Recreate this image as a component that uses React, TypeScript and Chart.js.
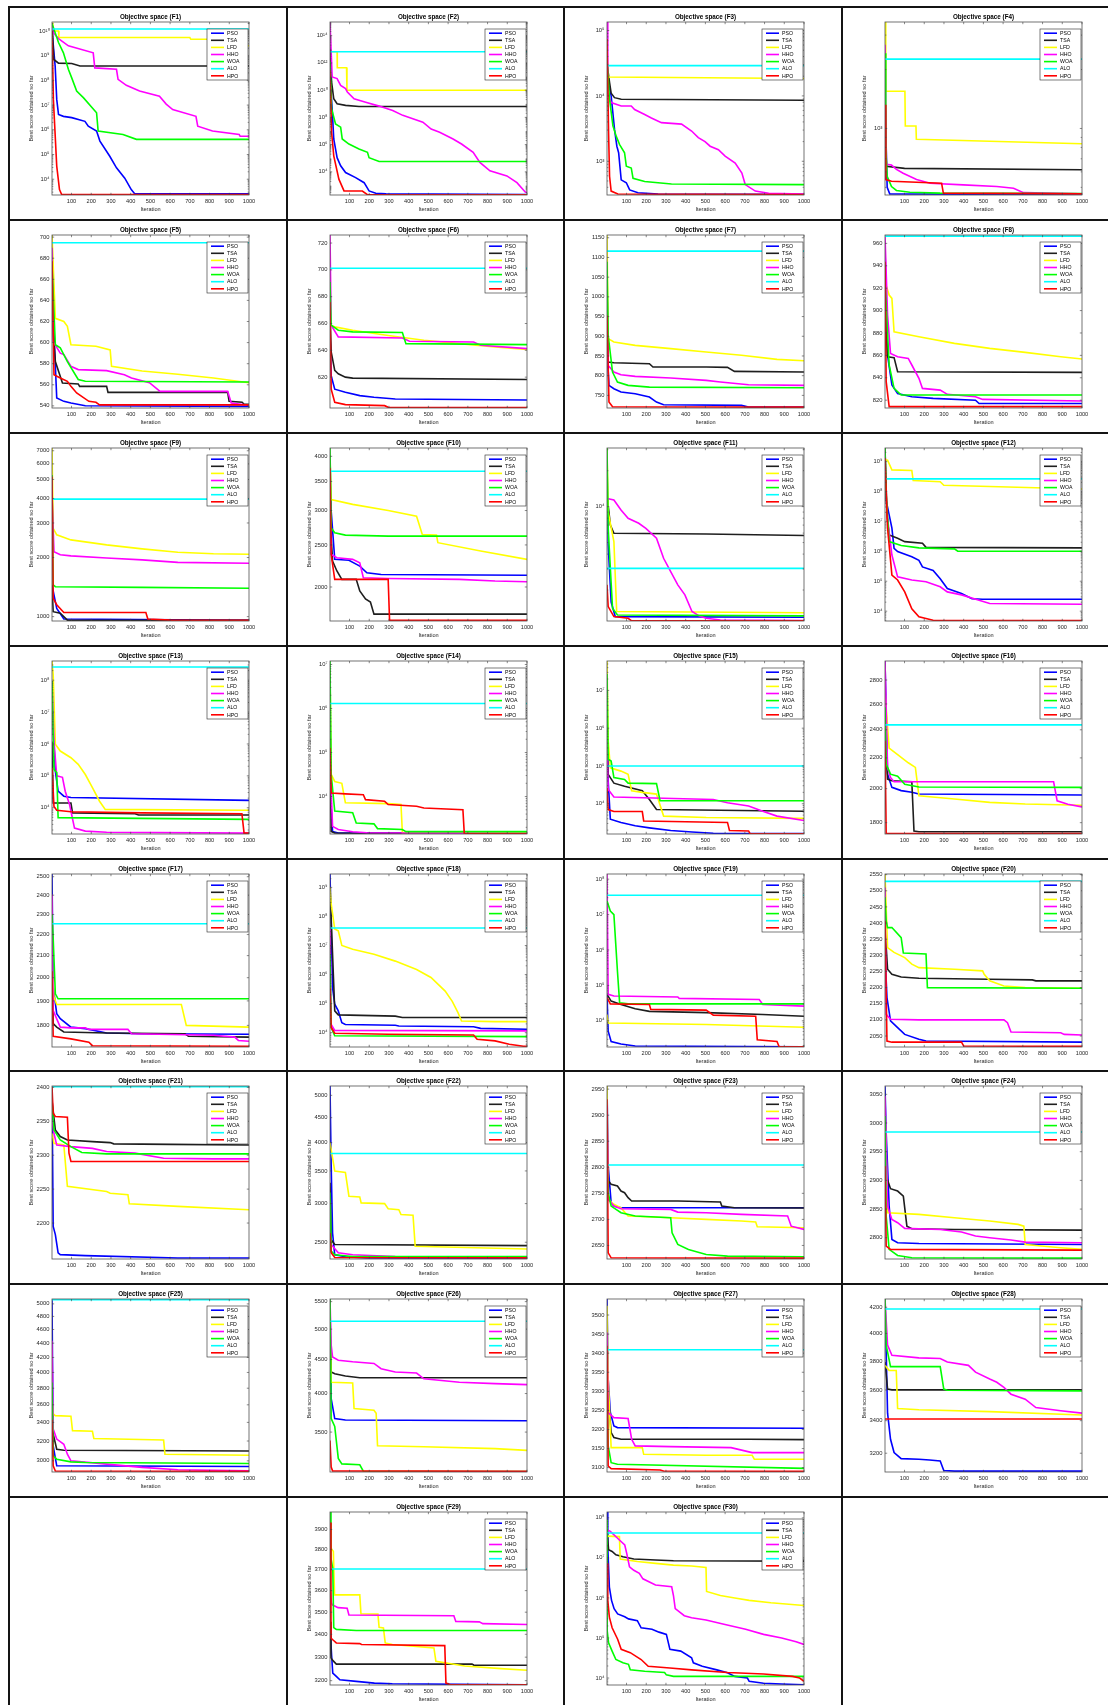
import React, { useEffect, useRef } from "react";
import { Chart, registerables } from "chart.js";

Chart.register(...registerables);

type Pt = [number, number];

const FAMILY = "'Liberation Sans', Arial, Helvetica, sans-serif";
const ALGORITHMS = ["PSO", "TSA", "LFD", "HHO", "WOA", "ALO", "HPO"];
const COLORS = ["#0000ff", "#1e1e1e", "#ffff00", "#ff00ff", "#00ff00", "#00ffff", "#ff0000"];
const X_TICKS = [100, 200, 300, 400, 500, 600, 700, 800, 900, 1000];

// Series order in every panel: PSO, TSA, LFD, HHO, WOA, ALO, HPO
const F1: Pt[][] = [
  [[1,1e10],[17,3.8e8],[25,1.7e7],[34,4.2e6],[59,3.5e6],[101,3.1e6],[168,2.2e6],[185,1.4e6],[227,8.9e5],[244,3.5e5],[294,8.5e4],[328,2.9e4],[370,1.1e4],[403,3.8e3],[420,2.6e3],[1000,2.6e3]],
  [[1,2e10],[10,7e8],[34,5e8],[101,4.8e8],[143,3.8e8],[1000,3.8e8]],
  [[1,2.2e10],[5,1e10],[34,1e10],[36,5.4e9],[700,5.4e9],[705,4.6e9],[950,4.6e9],[955,2.5e9],[1000,2.5e9]],
  [[1,2e10],[8,8.5e9],[34,4.9e9],[84,2.5e9],[210,1.3e9],[218,3.2e8],[328,2.8e8],[336,1.1e8],[378,6.3e7],[445,3.7e7],[546,2.3e7],[580,1.1e7],[613,6.6e6],[731,3.5e6],[740,1.4e6],[815,8.9e5],[950,6.5e5],[955,5.5e5],[1000,5.5e5]],
  [[1,2e10],[34,3.4e9],[59,1.3e9],[84,2.8e8],[101,1.26e8],[126,3.7e7],[160,2e7],[227,4.9e6],[235,8.9e5],[361,6.5e5],[429,4.1e5],[1000,4.1e5]],
  [[1,1.2e10],[1000,1.2e10]],
  [[1,1e10],[8,1.7e7],[25,3.4e4],[39,3.8e3],[50,2.4e3],[1000,2.4e3]],
];
const F1_Y = [2.3e3, 2.3e10];
const F1_TICKS = [1e4, 1e5, 1e6, 1e7, 1e8, 1e9, 1e10];

const F2: Pt[][] = [
  [[1,1e11],[12,4.3e8],[20,2.6e6],[37,1.1e5],[55,2.8e4],[80,8.9e3],[131,3.8e3],[174,1.6e3],[199,4e2],[233,2.7e2],[285,2.5e2],[1000,2.2e2]],
  [[1,2.5e13],[9,4e10],[20,2.3e9],[37,1e9],[80,7.6e8],[148,6.3e8],[1000,6.3e8]],
  [[1,6.6e12],[37,6.6e12],[38,4.4e11],[85,4.4e11],[87,9.8e9],[1000,9.8e9]],
  [[1,1e15],[12,9.3e10],[37,7e10],[55,2.2e10],[80,1.3e10],[89,7.2e9],[123,2.3e9],[182,1.3e9],[250,6.7e8],[319,3.2e8],[370,1.4e8],[421,7.8e7],[472,4.4e7],[514,1.4e7],[557,8e6],[625,2.6e6],[668,1.1e6],[727,2.7e5],[761,4.9e4],[812,1.2e4],[898,5e3],[949,1.6e3],[991,3.3e2],[1000,3.2e2]],
  [[1,1.2e12],[9,4.3e8],[29,3.3e7],[55,1.9e7],[63,2.6e6],[97,1.1e6],[148,4.7e5],[191,2.7e5],[199,1.1e5],[250,5.8e4],[1000,5.8e4]],
  [[1,6.6e12],[1000,6.6e12]],
  [[1,2.9e11],[9,8e6],[20,1.5e5],[46,2.9e3],[72,4e2],[165,3.9e2],[191,2.1e2],[1000,2.1e2]],
];
const F2_Y = [2e2, 1e15];
const F2_TICKS = [1e4, 1e6, 1e8, 1e10, 1e12, 1e14];

const F3: Pt[][] = [
  [[1,2e4],[22,1e4],[39,3.1e3],[51,1.7e3],[60,1.35e3],[73,520],[99,470],[116,365],[158,330],[260,315],[1000,312]],
  [[1,3.1e4],[14,1.6e4],[22,1.1e4],[39,9.4e3],[73,8.9e3],[1000,8.6e3]],
  [[1,2.2e4],[10,1.95e4],[1000,1.85e4]],
  [[1,1.35e5],[5,1.1e4],[22,7.9e3],[73,7e3],[124,7e3],[141,6.2e3],[192,5.2e3],[226,4.6e3],[277,3.9e3],[379,3.7e3],[430,2.9e3],[464,2.3e3],[498,2e3],[524,1.7e3],[566,1.5e3],[600,1.2e3],[651,940],[685,660],[702,440],[753,350],[821,325],[1000,316]],
  [[1,3.6e4],[14,8.9e3],[31,3.5e3],[48,2.4e3],[65,1.8e3],[90,1.35e3],[99,840],[124,790],[133,550],[192,490],[328,450],[1000,440]],
  [[1,2.9e4],[1000,2.9e4]],
  [[1,7.4e4],[9,2.7e3],[14,590],[22,350],[56,316],[1000,310]],
];
const F3_Y = [305, 1.35e5];
const F3_TICKS = [1e3, 1e4, 1e5];

const F4: Pt[][] = [
  [[1,1430],[12,500],[25,463],[1000,459]],
  [[1,1200],[8,640],[100,625],[1000,615]],
  [[1,3500],[5,1550],[102,1550],[104,1030],[158,1030],[160,880],[1000,835]],
  [[1,2680],[8,656],[34,650],[59,618],[93,590],[161,548],[229,525],[398,515],[568,505],[653,495],[703,470],[1000,463]],
  [[1,2420],[5,786],[12,570],[34,505],[59,482],[127,472],[280,467],[1000,465]],
  [[1,2260],[1000,2260]],
  [[1,1320],[5,548],[34,537],[288,525],[297,467],[1000,463]],
];
const F4_Y = [457, 3500];
const F4_TICKS = [1000];

const F5: Pt[][] = [
  [[1,702],[7,626],[25,547.5],[61,544.3],[97,542.7],[170,540.2],[1000,539.5]],
  [[1,626.6],[18,582],[54,561.7],[134,560.8],[141,558.5],[278,558.5],[285,552.8],[892,552.8],[899,544.3],[965,543.5],[975,541.5],[1000,541.5]],
  [[1,702],[18,623],[61,620],[79,615.5],[97,598],[224,596.5],[296,593],[303,577.5],[458,573],[639,570],[820,566.5],[1000,562]],
  [[1,690],[7,601],[43,590],[61,588.6],[97,577.5],[134,574.4],[278,573.4],[368,569.6],[404,566.5],[495,562],[549,553.8],[892,553.8],[910,542.7],[1000,540.5]],
  [[1,674],[18,598],[43,595],[79,582],[134,565],[170,563.3],[1000,562.7]],
  [[1,694.6],[1000,694.6]],
  [[1,677],[11,569.6],[43,566.5],[79,563.3],[97,558.5],[126,552.2],[188,544.3],[224,543.4],[242,541],[1000,541]],
];
const F5_Y = [538, 702];
const F5_TICKS = [540, 560, 580, 600, 620, 640, 660, 680, 700];

const F6: Pt[][] = [
  [[1,653.75],[7,621],[25,611],[79,608.75],[152,606.25],[224,605],[332,603.75],[1000,603]],
  [[1,668.75],[7,638.75],[25,625],[43,622.5],[79,620],[116,619.25],[1000,618.25]],
  [[1,658.75],[25,657.5],[116,655],[296,651],[477,647.5],[657,645],[838,642.5],[1000,640.75]],
  [[1,726],[7,658.75],[43,650],[368,649.25],[404,646.75],[729,646.25],[765,643.75],[1000,641.25]],
  [[1,691],[7,658.75],[43,655],[116,653.75],[368,653.25],[386,645],[1000,644.25]],
  [[1,701.25],[1000,701.25]],
  [[1,676],[7,611],[25,601.25],[79,599.5],[278,598.75],[296,597.5],[1000,597.25]],
];
const F6_Y = [597, 726];
const F6_TICKS = [620, 640, 660, 680, 700, 720];

const F7: Pt[][] = [
  [[1,868.6],[11,775.4],[36,767],[72,758.5],[144,754.2],[216,745.8],[252,733],[288,726.3],[683,724.6],[719,720.3],[1000,720.3]],
  [[1,1038],[7,834.7],[36,833],[216,830.5],[234,822],[504,822],[612,821],[647,811],[1000,809.3]],
  [[1,1157],[7,894],[36,885.6],[144,877],[324,868.6],[504,860],[683,851.7],[863,841.5],[1000,838]],
  [[1,1038],[7,826],[36,809.3],[72,802.5],[144,798.3],[324,794],[504,788],[576,784],[719,777],[1000,775.4]],
  [[1,1089],[7,902.5],[29,809],[54,784],[108,775.4],[216,771],[1000,769.5]],
  [[1,1116],[1000,1116]],
  [[1,953],[11,733],[29,721],[1000,720.3]],
];
const F7_Y = [718, 1157];
const F7_TICKS = [750, 800, 850, 900, 950, 1000, 1050, 1100, 1150];

const F8: Pt[][] = [
  [[1,955.5],[14,860],[36,833.5],[65,826],[137,823],[245,821.6],[460,820],[478,817],[1000,817]],
  [[1,896],[14,858.8],[47,858],[65,845.4],[1000,844.8]],
  [[1,925.8],[22,913.9],[36,910.9],[47,881],[173,876.7],[353,870.7],[532,866.25],[712,862.7],[892,858.8],[1000,856.7]],
  [[1,967],[14,896],[29,861.8],[65,858.8],[119,857.3],[137,851.4],[173,839.5],[191,830.5],[281,829],[317,825.2],[460,823],[496,820.7],[1000,819.2]],
  [[1,925.8],[22,851.4],[47,830.5],[83,824.6],[1000,824.6]],
  [[1,966.5],[1000,966.5]],
  [[1,943.6],[7,836.5],[22,814.2],[1000,814.2]],
];
const F8_Y = [813, 967.5];
const F8_TICKS = [820, 840, 860, 880, 900, 920, 940, 960];

const F9: Pt[][] = [
  [[1,1450],[11,1290],[25,1100],[61,973],[1000,958]],
  [[1,1450],[7,1060],[43,1040],[79,960],[1000,958]],
  [[1,7230],[7,2820],[25,2610],[97,2460],[278,2320],[458,2215],[639,2130],[820,2090],[1000,2080]],
  [[1,4170],[11,2140],[43,2065],[97,2040],[278,1990],[458,1945],[639,1890],[1000,1870]],
  [[1,5270],[7,1450],[18,1420],[458,1410],[1000,1395]],
  [[1,3970],[1000,3970]],
  [[1,5180],[7,1240],[25,1150],[61,1050],[477,1050],[487,973],[603,960],[1000,958]],
];
const F9_Y = [950, 7230];
const F9_TICKS = [1000, 2000, 3000, 4000, 5000, 6000, 7000];

const F10: Pt[][] = [
  [[1,4000],[7,2990],[25,2316],[97,2304],[152,2234],[188,2157],[260,2137],[1000,2129]],
  [[1,2884],[14,2294],[36,2177],[61,2083],[134,2083],[152,1958],[181,1877],[206,1846],[224,1732],[1000,1732]],
  [[1,4030],[7,3180],[116,3100],[296,3000],[440,2912],[469,2643],[541,2634],[548,2530],[765,2420],[1000,2316]],
  [[1,2990],[7,2376],[36,2336],[116,2316],[152,2274],[170,2100],[296,2093],[657,2083],[838,2064],[1000,2057]],
  [[1,4180],[7,2736],[25,2666],[79,2634],[296,2619],[1000,2619]],
  [[1,3696],[1000,3696]],
  [[1,3758],[7,2376],[25,2083],[296,2083],[303,1676],[1000,1676]],
];
const F10_Y = [1670, 4180];
const F10_TICKS = [2000, 2500, 3000, 3500, 4000];

const F11: Pt[][] = [
  [[1,23800],[7,4790],[22,1585],[43,1197],[1000,1183]],
  [[1,12500],[18,7020],[36,5980],[504,5900],[1000,5720]],
  [[1,31000],[7,9000],[36,5100],[50,1320],[1000,1290]],
  [[1,11700],[36,11370],[72,9380],[108,7980],[162,7250],[198,6580],[252,5430],[288,3690],[324,2850],[360,2210],[396,1820],[432,1320],[468,1215],[504,1160],[576,1122],[1000,1110]],
  [[1,31000],[7,6580],[29,1405],[54,1235],[1000,1215]],
  [[1,3040],[1000,3040]],
  [[1,2210],[7,1452],[36,1197],[108,1160],[126,1102],[1000,1102]],
];
const F11_Y = [1100, 31000];
const F11_TICKS = [1e4];

const F12: Pt[][] = [
  [[1,7.6e7],[36,5.9e6],[47,1.26e6],[65,9.8e5],[137,6.6e5],[173,5e5],[191,3e5],[245,2.3e5],[281,1.2e5],[317,5.7e4],[389,3.9e4],[442,2.6e4],[496,2.5e4],[1000,2.5e4]],
  [[1,2.8e9],[11,1.6e7],[22,3.5e6],[65,2.7e6],[101,2.1e6],[191,1.85e6],[209,1.35e6],[1000,1.3e6]],
  [[1,1.14e9],[14,1.1e9],[36,5.2e8],[137,5e8],[144,2.3e8],[281,2.1e8],[299,1.6e8],[532,1.45e8],[1000,1.2e8]],
  [[1,2.8e8],[14,1.26e7],[36,7.5e5],[65,1.4e5],[137,1.1e5],[209,9.6e4],[281,6.5e4],[317,4.4e4],[389,3.5e4],[478,2.3e4],[532,1.8e4],[1000,1.7e4]],
  [[1,2.8e9],[7,7.6e7],[22,2.1e6],[83,1.55e6],[173,1.3e6],[353,1.2e6],[370,1e6],[1000,1e6]],
  [[1,2.6e8],[1000,2.6e8]],
  [[1,1.3e9],[14,5.9e6],[36,1.6e5],[65,1.1e5],[101,4.4e4],[137,1.2e4],[173,6.5e3],[245,5e3],[1000,4.9e3]],
];
const F12_Y = [4700, 2.8e9];
const F12_TICKS = [1e4, 1e5, 1e6, 1e7, 1e8, 1e9];

const F13: Pt[][] = [
  [[1,1.4e7],[18,1.4e5],[32,3.3e4],[61,2.3e4],[97,2.1e4],[1000,1.7e4]],
  [[1,1.2e6],[7,1.4e4],[97,1.4e4],[105,6.9e3],[422,6.5e3],[440,5.9e3],[1000,5.9e3]],
  [[1,4e8],[7,1.5e8],[18,9.8e5],[43,6e5],[97,3.7e5],[134,2.3e5],[170,1.1e5],[206,4.3e4],[242,1.6e4],[271,8.9e3],[1000,8.3e3]],
  [[1,9e7],[11,1.2e6],[25,1e5],[54,9e4],[68,3.3e4],[90,1.26e4],[115,2.3e3],[170,1.85e3],[278,1.7e3],[1000,1.6e3]],
  [[1,9.5e7],[11,1.6e5],[25,1.26e5],[32,4.9e3],[1000,4.3e3]],
  [[1,2.6e8],[1000,2.6e8]],
  [[1,1.8e5],[11,1.1e4],[25,8.3e3],[97,7.5e3],[458,6.9e3],[964,6.5e3],[975,1.6e3],[1000,1.6e3]],
];
const F13_Y = [1500, 4e8];
const F13_TICKS = [1e4, 1e5, 1e6, 1e7, 1e8];

const F14: Pt[][] = [
  [[1,1e6],[7,5.5e3],[14,1.6e3],[43,1.48e3],[1000,1.48e3]],
  [[1,1.8e5],[7,1.6e3],[25,1.48e3],[1000,1.46e3]],
  [[1,7e6],[7,3.2e4],[25,2.2e4],[61,2e4],[79,7.2e3],[296,6.9e3],[361,6.6e3],[368,1.5e3],[1000,1.5e3]],
  [[1,6.3e4],[14,2.1e3],[43,1.78e3],[116,1.58e3],[188,1.5e3],[1000,1.46e3]],
  [[1,1.2e7],[7,3.2e4],[25,4.7e3],[116,4.3e3],[134,2.5e3],[224,2.4e3],[242,1.87e3],[368,1.78e3],[386,1.6e3],[1000,1.6e3]],
  [[1,1.3e6],[1000,1.3e6]],
  [[1,1.26e5],[7,1.2e4],[79,1.15e4],[170,1.1e4],[181,8.5e3],[278,7.8e3],[296,6.6e3],[440,6e3],[477,5.5e3],[675,5e3],[682,1.42e3],[1000,1.42e3]],
];
const F14_Y = [1410, 1.2e7];
const F14_TICKS = [1e4, 1e5, 1e6, 1e7];

const F15: Pt[][] = [
  [[1,1.26e6],[7,4e4],[18,3.9e3],[72,3.2e3],[144,2.6e3],[216,2.3e3],[324,1.95e3],[432,1.78e3],[540,1.66e3],[1000,1.62e3]],
  [[1,4.6e5],[7,6e4],[36,3.5e4],[90,2.9e4],[180,2.2e4],[216,1.3e4],[252,7e3],[1000,6.3e3]],
  [[1,6e7],[7,4.6e5],[18,8.9e4],[72,7.3e4],[108,6e4],[126,2.2e4],[180,2e4],[252,1.8e4],[288,4.7e3],[504,4.3e3],[1000,4.1e3]],
  [[1,4.6e5],[7,2.4e4],[36,1.5e4],[540,1.3e4],[612,1.06e4],[719,8.7e3],[791,6.3e3],[863,4.7e3],[1000,3.6e3]],
  [[1,2.7e7],[7,1.5e5],[22,1.35e5],[36,4.9e4],[90,4.4e4],[108,3.5e4],[252,3.4e4],[270,1.2e4],[1000,1.2e4]],
  [[1,1e5],[1000,1e5]],
  [[1,2.6e4],[7,7e3],[36,6.2e3],[180,6.2e3],[187,3.5e3],[612,3.2e3],[622,1.95e3],[719,1.9e3],[727,1.59e3],[1000,1.59e3]],
];
const F15_Y = [1580, 6e7];
const F15_TICKS = [1e4, 1e5, 1e6, 1e7];

const F16: Pt[][] = [
  [[1,2970],[14,2092],[36,2008],[83,1988],[137,1978],[173,1967],[1000,1961]],
  [[1,2370],[14,2060],[36,2050],[137,2043],[148,1754],[173,1750],[1000,1750]],
  [[1,2700],[22,2268],[65,2222],[119,2167],[155,2136],[173,1957],[353,1937],[532,1917],[712,1907],[1000,1900]],
  [[1,2970],[14,2136],[29,2070],[47,2043],[856,2043],[874,1926],[928,1906],[1000,1890]],
  [[1,2573],[7,2158],[29,2092],[65,2079],[101,2027],[173,2010],[1000,2008]],
  [[1,2437],[1000,2437]],
  [[1,2320],[7,1740],[1000,1740]],
];
const F16_Y = [1738, 2970];
const F16_TICKS = [1800, 2000, 2200, 2400, 2600, 2800];

const F17: Pt[][] = [
  [[1,2515],[7,1959],[25,1847],[43,1827],[97,1793],[170,1787],[278,1770],[458,1767],[1000,1765]],
  [[1,2080],[7,1807],[25,1793],[61,1774],[278,1770],[675,1767],[693,1757],[1000,1754]],
  [[1,2075],[11,1916],[25,1885],[657,1885],[682,1800],[1000,1793]],
  [[1,2404],[7,1860],[43,1793],[97,1790],[170,1790],[188,1784],[386,1784],[404,1767],[820,1761],[928,1754],[946,1741],[1000,1738]],
  [[1,2300],[7,2182],[18,1930],[32,1909],[1000,1909]],
  [[1,2253],[1000,2253]],
  [[1,2029],[7,1757],[97,1747],[188,1734],[206,1721],[1000,1719]],
];
const F17_Y = [1716, 2515];
const F17_TICKS = [1800, 1900, 2000, 2100, 2200, 2300, 2400, 2500];

const F18: Pt[][] = [
  [[1,2.9e9],[14,3.5e5],[25,9.5e4],[43,5.6e4],[61,2.2e4],[79,1.9e4],[332,1.8e4],[350,1.7e4],[729,1.6e4],[765,1.4e4],[1000,1.3e4]],
  [[1,1e9],[14,5e6],[25,5.6e4],[43,4.1e4],[332,3.7e4],[368,3.3e4],[1000,3.3e4]],
  [[1,1e9],[7,2.7e8],[25,3.7e7],[43,3.2e7],[61,1e7],[116,7.4e6],[224,5e6],[332,2.9e6],[440,1.5e6],[513,7.9e5],[585,2.7e5],[621,1.2e5],[650,4.9e4],[668,2.5e4],[838,2.4e4],[1000,2.4e4]],
  [[1,4e7],[7,1.9e4],[25,1.2e4],[1000,1.15e4]],
  [[1,5e6],[7,1.5e4],[25,7.8e3],[1000,7.3e3]],
  [[1,4e7],[1000,4e7]],
  [[1,3.5e5],[7,1.5e4],[25,9.5e3],[296,8.8e3],[729,8.3e3],[747,5.9e3],[838,5.2e3],[910,4e3],[982,3.4e3],[1000,3.4e3]],
];
const F18_Y = [3200, 2.9e9];
const F18_TICKS = [1e4, 1e5, 1e6, 1e7, 1e8, 1e9];

const F19: Pt[][] = [
  [[1,5.6e4],[7,5.1e3],[22,2.6e3],[72,2.2e3],[144,1.95e3],[1000,1.85e3]],
  [[1,5.6e4],[22,3.6e4],[72,2.9e4],[144,2.2e4],[216,1.85e4],[504,1.7e4],[791,1.5e4],[1000,1.35e4]],
  [[1,1.5e4],[7,8.7e3],[504,7.9e3],[1000,6.6e3]],
  [[1,1.4e8],[7,5.6e4],[36,5e4],[360,4.7e4],[367,4.3e4],[773,4e4],[791,2.9e4],[1000,2.6e4]],
  [[1,2.4e7],[18,1.26e7],[36,1e7],[54,2.5e5],[65,3.2e4],[108,3e4],[1000,3e4]],
  [[1,3.5e7],[1000,3.5e7]],
  [[1,4.5e4],[18,3e4],[216,2.9e4],[223,2.1e4],[504,2e4],[540,1.45e4],[755,1.35e4],[763,2.9e3],[863,2.6e3],[874,1.85e3],[1000,1.85e3]],
];
const F19_Y = [1820, 1.4e8];
const F19_TICKS = [1e4, 1e5, 1e6, 1e7, 1e8];

const F20: Pt[][] = [
  [[1,2304],[11,2169],[29,2097],[65,2076],[101,2055],[173,2040],[209,2034.5],[1000,2031]],
  [[1,2386],[14,2257],[36,2241.5],[83,2233],[173,2229],[532,2226],[748,2224],[766,2221],[1000,2221]],
  [[1,2552],[14,2324],[47,2309],[101,2293],[137,2272.6],[173,2262],[353,2257],[496,2252],[504,2241.5],[532,2221],[604,2205],[712,2200],[1000,2198]],
  [[1,2510],[7,2117],[29,2102],[173,2100],[604,2100],[622,2091.5],[640,2062.5],[892,2060],[910,2055],[1000,2053]],
  [[1,2480],[7,2407],[14,2386],[36,2386],[83,2355],[94,2307],[209,2304],[216,2200],[1000,2198]],
  [[1,2529],[1000,2529]],
  [[1,2407],[11,2034.5],[36,2031],[389,2031],[400,2019],[1000,2018]],
];
const F20_Y = [2016, 2552];
const F20_TICKS = [2050, 2100, 2150, 2200, 2250, 2300, 2350, 2400, 2450, 2500, 2550];

const F21: Pt[][] = [
  [[1,2396],[7,2195],[18,2183],[32,2156],[43,2153.4],[170,2152],[639,2148.5],[1000,2148.5]],
  [[1,2381],[18,2337],[43,2327.5],[79,2322.5],[206,2320],[296,2318.6],[314,2316.7],[603,2316],[1000,2315]],
  [[1,2332],[11,2317.6],[61,2315],[79,2254],[278,2246.6],[296,2244],[386,2241.7],[393,2228.4],[639,2224.5],[1000,2219.6]],
  [[1,2352],[11,2332],[25,2315],[97,2312.7],[206,2310],[278,2305.4],[422,2303],[567,2295.6],[820,2294.6],[1000,2294.6]],
  [[1,2376.5],[11,2337],[43,2322.5],[97,2312.7],[152,2304],[278,2302],[1000,2302]],
  [[1,2401],[1000,2401]],
  [[1,2401],[7,2361.8],[18,2357],[79,2356],[87,2303],[97,2290.7],[1000,2290.7]],
];
const F21_Y = [2147, 2402];
const F21_TICKS = [2200, 2250, 2300, 2350, 2400];

const F22: Pt[][] = [
  [[1,5225],[7,3590],[14,2611],[25,2357],[79,2334],[188,2322],[1000,2318]],
  [[1,3310],[7,2531],[25,2473],[1000,2461]],
  [[1,4000],[18,3640],[25,3497],[79,3475],[97,3106],[152,3095],[159,3010],[278,3000],[296,2927],[350,2915],[361,2850],[422,2840],[433,2453],[1000,2422]],
  [[1,2695],[7,2473],[43,2379],[116,2357],[332,2338],[1000,2326]],
  [[1,3160],[7,2398],[25,2357],[116,2338],[1000,2338]],
  [[1,3800],[1000,3800]],
  [[1,2611],[7,2379],[25,2326],[1000,2322]],
];
const F22_Y = [2310, 5225];
const F22_TICKS = [2500, 3000, 3500, 4000, 4500, 5000];

const F23: Pt[][] = [
  [[1,2956],[7,2802.6],[22,2732],[36,2725.6],[72,2722.4],[1000,2722.4]],
  [[1,2828],[7,2774],[22,2767.3],[54,2764],[72,2754.5],[90,2751.3],[108,2741.7],[126,2735.3],[360,2735.3],[576,2733.3],[583,2725.6],[647,2722.4],[1000,2721.8]],
  [[1,2956],[7,2738],[36,2729],[72,2722],[108,2706.4],[324,2703.2],[504,2700],[683,2696.8],[755,2694.9],[763,2686],[1000,2684]],
  [[1,2918],[7,2738.5],[36,2725.6],[72,2720.5],[324,2719.2],[360,2714],[504,2712.8],[683,2709.6],[917,2706.4],[935,2687],[1000,2680.8]],
  [[1,2828],[7,2751.3],[22,2725.6],[72,2712.8],[144,2706.4],[324,2703.2],[331,2674.4],[360,2652],[414,2642.3],[504,2632.7],[612,2629.5],[1000,2628.2]],
  [[1,2804.5],[1000,2804.5]],
  [[1,2930.8],[7,2635.9],[22,2626.3],[1000,2625.6]],
];
const F23_Y = [2624, 2956];
const F23_TICKS = [2650, 2700, 2750, 2800, 2850, 2900, 2950];

const F24: Pt[][] = [
  [[1,3064],[7,2983],[22,2855.2],[36,2797.1],[65,2791.3],[173,2790],[1000,2788.4]],
  [[1,3012],[7,2907.6],[29,2885.5],[65,2881.4],[94,2872.7],[112,2820.3],[137,2815.7],[353,2814.5],[1000,2813.4]],
  [[1,3029.7],[14,2843.6],[173,2840.7],[353,2835],[532,2829.1],[676,2823.3],[705,2820.3],[712,2788.4],[892,2782.6],[1000,2779.7]],
  [[1,3047],[14,2855.2],[36,2832],[65,2826.2],[101,2816.3],[281,2814.5],[389,2810],[460,2803],[532,2800],[640,2796],[712,2792.4],[1000,2791.3]],
  [[1,3012],[7,2837.8],[22,2779.7],[65,2769.2],[137,2765.1],[1000,2764.5]],
  [[1,2984.3],[1000,2984.3]],
  [[1,2925],[7,2785.5],[29,2779.7],[1000,2778.5]],
];
const F24_Y = [2763, 3064.5];
const F24_TICKS = [2800, 2850, 2900, 2950, 3000, 3050];

const F25: Pt[][] = [
  [[1,5080],[7,3150],[25,2952],[1000,2945]],
  [[1,3650],[7,3275],[25,3115],[61,3105],[1000,3098]],
  [[1,3669],[7,3495],[18,3476],[97,3468],[105,3310],[206,3303],[213,3227],[567,3210],[574,3065],[1000,3055]],
  [[1,4435],[7,3327],[25,3220],[61,3166],[79,3065],[97,3000],[278,2968],[458,2937],[639,2914],[1000,2904]],
  [[1,3872],[7,3049],[25,3016],[97,2990],[170,2984],[1000,2974]],
  [[1,5070],[1000,5070]],
  [[1,3430],[7,2952],[18,2903],[1000,2900]],
];
const F25_Y = [2893, 5080];
const F25_TICKS = [3000, 3200, 3400, 3600, 3800, 4000, 4200, 4400, 4600, 4800, 5000];

const F26: Pt[][] = [
  [[1,5550],[7,3930],[25,3668],[79,3650],[1000,3640]],
  [[1,5000],[7,4310],[25,4285],[79,4250],[152,4225],[1000,4225]],
  [[1,5300],[7,4160],[116,4150],[123,3797],[224,3775],[235,3735],[242,3339],[477,3326],[838,3305],[1000,3285]],
  [[1,5550],[7,4730],[14,4540],[43,4490],[116,4465],[224,4440],[260,4360],[332,4310],[440,4295],[477,4210],[657,4160],[838,4140],[1000,4125]],
  [[1,5550],[7,3668],[25,3568],[43,3195],[61,3135],[152,3125],[170,3056],[1000,3052]],
  [[1,5137],[1000,5137]],
  [[1,3400],[7,3100],[14,3060],[1000,3055]],
];
const F26_Y = [3048, 5550];
const F26_TICKS = [3500, 4000, 4500, 5000, 5500];

const F27: Pt[][] = [
  [[1,3542],[7,3332],[18,3244.4],[36,3209.4],[54,3205],[1000,3203.3]],
  [[1,3419.5],[7,3288],[22,3192],[36,3179],[72,3174.4],[719,3174.4],[1000,3173.5]],
  [[1,3524.5],[7,3332],[22,3152.5],[180,3152.5],[187,3135],[504,3132.4],[737,3132.4],[748,3122],[1000,3122]],
  [[1,3454.5],[7,3244.4],[36,3231],[108,3228.7],[126,3174.4],[144,3157],[324,3155],[630,3152.5],[737,3139.4],[1000,3139.4]],
  [[1,3332],[7,3157],[22,3113],[54,3108.8],[1000,3098.2]],
  [[1,3409],[1000,3409]],
  [[1,3419.5],[7,3104.4],[22,3097.4],[270,3093.9],[288,3091.3],[1000,3090.4]],
];
const F27_Y = [3088.6, 3542];
const F27_TICKS = [3100, 3150, 3200, 3250, 3300, 3350, 3400, 3450, 3500];

const F28: Pt[][] = [
  [[1,4265],[14,3448],[29,3284],[47,3204],[83,3168],[173,3164],[227,3160],[281,3154],[299,3099],[353,3095],[1000,3095]],
  [[1,3793],[14,3606],[36,3601],[1000,3601]],
  [[1,3769],[22,3733],[58,3733],[65,3478],[173,3470],[532,3458],[1000,3436]],
  [[1,4265],[14,3914],[36,3841],[173,3822],[281,3818],[317,3793],[424,3769],[460,3722],[532,3674],[568,3652],[604,3617],[640,3572],[712,3539],[766,3484],[892,3463],[1000,3448]],
  [[1,4265],[7,3914],[29,3760],[281,3760],[299,3606],[317,3598],[1000,3594]],
  [[1,4186],[1000,4186]],
  [[1,3411],[1000,3411]],
];
const F28_Y = [3090, 4265];
const F28_TICKS = [3200, 3400, 3600, 3800, 4000, 4200];

const F29: Pt[][] = [
  [[1,3434],[9,3309],[15,3232],[33,3218],[51,3204],[134,3197],[226,3190],[317,3187],[1000,3183]],
  [[1,3457],[6,3297],[15,3286],[33,3270],[721,3270],[730,3266],[1000,3265]],
  [[1,3830],[9,3800],[18,3790],[24,3580],[152,3580],[158,3493],[244,3491],[250,3431],[272,3428],[281,3362],[317,3355],[528,3340],[538,3282],[684,3262],[868,3251],[1000,3244]],
  [[1,3612],[9,3540],[15,3533],[42,3521],[88,3518],[97,3487],[629,3484],[639,3458],[758,3456],[776,3448],[1000,3444]],
  [[1,3990],[6,3755],[15,3705],[20,3430],[33,3422],[134,3417],[1000,3417]],
  [[1,3703],[1000,3703]],
  [[1,3935],[6,3383],[15,3376],[33,3362],[152,3359],[161,3355],[583,3350],[589,3190],[611,3183],[1000,3183]],
];
const F29_Y = [3182, 3990];
const F29_TICKS = [3200, 3300, 3400, 3500, 3600, 3700, 3800, 3900];

const F30: Pt[][] = [
  [[1,1.4e8],[5,1.9e7],[13,1.85e6],[24,8.7e5],[37,5.4e5],[55,4e5],[91,3.4e5],[110,3e5],[155,2.7e5],[174,1.8e5],[229,1.66e5],[265,1.4e5],[302,1.23e5],[320,5.2e4],[375,4.7e4],[430,3.2e4],[439,2.4e4],[484,1.97e4],[558,1.6e4],[612,1.35e4],[649,1.1e4],[713,1e4],[722,8.3e3],[795,7.4e3],[886,7.1e3],[1000,6.8e3]],
  [[1,5e7],[9,1.6e7],[27,1.45e7],[46,1.2e7],[82,1.07e7],[137,9.4e6],[247,8.9e6],[338,8.5e6],[1000,8.3e6]],
  [[1,3.5e7],[64,3.4e7],[68,9.4e6],[155,8.1e6],[247,7.3e6],[338,6.6e6],[430,6.3e6],[503,5.8e6],[506,1.45e6],[576,1.15e6],[649,1e6],[722,8.7e5],[832,7.6e5],[1000,6.5e5]],
  [[1,5e7],[18,4.6e7],[64,2.8e7],[91,2.1e7],[101,1.3e7],[115,6e6],[137,4.9e6],[165,4.1e6],[183,3e6],[247,2.1e6],[329,1.9e6],[338,1.15e6],[347,5.4e5],[393,3.6e5],[430,3.2e5],[503,2.8e5],[594,2.2e5],[704,1.66e5],[795,1.23e5],[887,1e5],[960,8.1e4],[1000,6.9e4]],
  [[1,9e7],[2,1.5e5],[9,7.6e4],[27,4.7e4],[46,2.9e4],[82,2.4e4],[110,2.2e4],[119,1.6e4],[192,1.48e4],[293,1.38e4],[302,1.2e4],[338,1.1e4],[1000,1.1e4]],
  [[1,4.2e7],[1000,4.2e7]],
  [[1,7.3e6],[5,8.7e5],[13,3.3e5],[27,1.8e5],[55,9.3e4],[73,5.2e4],[119,4.3e4],[174,2.9e4],[210,1.97e4],[320,1.78e4],[430,1.6e4],[612,1.38e4],[795,1.26e4],[942,1.1e4],[978,1e4],[1000,8.3e3]],
];
const F30_Y = [6700, 1.4e8];
const F30_TICKS = [1e4, 1e5, 1e6, 1e7, 1e8];

type PanelDef = {
  name: string;
  log: boolean;
  pow: boolean;
  y: number[];
  ticks: number[];
  series: Pt[][];
  row: number;
  col: number;
};

// scale kind per panel: "pow" = log axis with 10^n labels, "logn" = log axis with plain labels, "lin" = linear
const PANEL_LIST: [string, string, number[], number[], Pt[][]][] = [
  ["F1", "pow", F1_Y, F1_TICKS, F1], ["F2", "pow", F2_Y, F2_TICKS, F2],
  ["F3", "pow", F3_Y, F3_TICKS, F3], ["F4", "pow", F4_Y, F4_TICKS, F4],
  ["F5", "lin", F5_Y, F5_TICKS, F5], ["F6", "lin", F6_Y, F6_TICKS, F6],
  ["F7", "lin", F7_Y, F7_TICKS, F7], ["F8", "lin", F8_Y, F8_TICKS, F8],
  ["F9", "logn", F9_Y, F9_TICKS, F9], ["F10", "logn", F10_Y, F10_TICKS, F10],
  ["F11", "pow", F11_Y, F11_TICKS, F11], ["F12", "pow", F12_Y, F12_TICKS, F12],
  ["F13", "pow", F13_Y, F13_TICKS, F13], ["F14", "pow", F14_Y, F14_TICKS, F14],
  ["F15", "pow", F15_Y, F15_TICKS, F15], ["F16", "logn", F16_Y, F16_TICKS, F16],
  ["F17", "logn", F17_Y, F17_TICKS, F17], ["F18", "pow", F18_Y, F18_TICKS, F18],
  ["F19", "pow", F19_Y, F19_TICKS, F19], ["F20", "lin", F20_Y, F20_TICKS, F20],
  ["F21", "lin", F21_Y, F21_TICKS, F21], ["F22", "logn", F22_Y, F22_TICKS, F22],
  ["F23", "lin", F23_Y, F23_TICKS, F23], ["F24", "lin", F24_Y, F24_TICKS, F24],
  ["F25", "logn", F25_Y, F25_TICKS, F25], ["F26", "logn", F26_Y, F26_TICKS, F26],
  ["F27", "lin", F27_Y, F27_TICKS, F27], ["F28", "logn", F28_Y, F28_TICKS, F28],
  ["F29", "logn", F29_Y, F29_TICKS, F29], ["F30", "pow", F30_Y, F30_TICKS, F30],
];

const PANELS: PanelDef[] = PANEL_LIST.map(([name, kind, y, ticks, series], i) => {
  let row = Math.floor(i / 4);
  let col = i % 4;
  if (i === 28) { row = 7; col = 1; }
  if (i === 29) { row = 7; col = 2; }
  return { name, log: kind !== "lin", pow: kind === "pow", y, ticks, series, row, col };
});

const COL_X = [0, 278, 555, 833, 1111];
const ROW_Y = [0, 213, 426, 639, 852, 1064, 1277, 1490];
const CW = 276;
const CH = 211;
const LINE_W = 1.6;

const SUP: Record<string, string> = {
  "0": "\u2070", "1": "\u00b9", "2": "\u00b2", "3": "\u00b3", "4": "\u2074",
  "5": "\u2075", "6": "\u2076", "7": "\u2077", "8": "\u2078", "9": "\u2079", "-": "\u207b",
};

function fmtTick(v: number, pow: boolean): string {
  if (pow) {
    const e = Math.round(Math.log10(v));
    return "10" + String(e).split("").map((c) => SUP[c] || c).join("");
  }
  return String(v);
}

function decorPlugin(p: PanelDef) {
  return {
    id: "decor_" + p.name,
    afterDraw(chart: any) {
      const ctx: CanvasRenderingContext2D = chart.ctx;
      const a = chart.chartArea;
      const xs = chart.scales.x;
      const ys = chart.scales.y;
      ctx.save();

      // inward tick marks on all four sides
      ctx.strokeStyle = "#3a3a3a";
      ctx.lineWidth = 0.6;
      ctx.beginPath();
      const TL = 2.2;
      for (const v of X_TICKS) {
        const px = xs.getPixelForValue(v);
        ctx.moveTo(px, a.bottom);
        ctx.lineTo(px, a.bottom - TL);
        ctx.moveTo(px, a.top);
        ctx.lineTo(px, a.top + TL);
      }
      for (const v of p.ticks) {
        const py = ys.getPixelForValue(v);
        ctx.moveTo(a.left, py);
        ctx.lineTo(a.left + TL, py);
        ctx.moveTo(a.right, py);
        ctx.lineTo(a.right - TL, py);
      }
      if (p.pow) {
        const lo = Math.floor(Math.log10(p.y[0]));
        const hi = Math.ceil(Math.log10(p.y[1]));
        for (let d = lo; d <= hi; d++) {
          for (let m = 2; m <= 9; m++) {
            const v = m * Math.pow(10, d);
            if (v <= p.y[0] || v >= p.y[1]) continue;
            const py = ys.getPixelForValue(v);
            ctx.moveTo(a.left, py);
            ctx.lineTo(a.left + 1.3, py);
            ctx.moveTo(a.right, py);
            ctx.lineTo(a.right - 1.3, py);
          }
        }
      }
      ctx.stroke();

      // axes box
      ctx.strokeStyle = "#505050";
      ctx.lineWidth = 0.8;
      ctx.strokeRect(a.left, a.top, a.right - a.left, a.bottom - a.top);

      // legend (inside, top right)
      const lw = 41;
      const lh = 51;
      const lx = a.right - lw - 1;
      const ly = a.top + 7;
      ctx.fillStyle = "#ffffff";
      ctx.fillRect(lx, ly, lw, lh);
      ctx.strokeStyle = "#262626";
      ctx.lineWidth = 0.6;
      ctx.strokeRect(lx, ly, lw, lh);
      ctx.font = `5.2px ${FAMILY}`;
      ctx.textAlign = "left";
      ctx.textBaseline = "middle";
      ALGORITHMS.forEach((name, i) => {
        const cy = ly + 4.2 + i * 7.1;
        ctx.strokeStyle = COLORS[i];
        ctx.lineWidth = LINE_W;
        ctx.beginPath();
        ctx.moveTo(lx + 4, cy);
        ctx.lineTo(lx + 17, cy);
        ctx.stroke();
        ctx.fillStyle = "#000000";
        ctx.fillText(name, lx + 20, cy + 0.3);
      });

      // title
      ctx.fillStyle = "#000000";
      ctx.font = `bold 6.3px ${FAMILY}`;
      ctx.textAlign = "center";
      ctx.textBaseline = "middle";
      ctx.fillText(`Objective space (${p.name})`, (a.left + a.right) / 2, a.top - 4.5);

      // x label
      ctx.fillStyle = "#262626";
      ctx.font = `5.6px ${FAMILY}`;
      ctx.fillText("Iteration", (a.left + a.right) / 2, a.bottom + 14);

      // y label
      ctx.save();
      ctx.translate(21.5, (a.top + a.bottom) / 2);
      ctx.rotate(-Math.PI / 2);
      ctx.font = `5.7px ${FAMILY}`;
      ctx.fillText("Best score obtained so far", 0, 0);
      ctx.restore();

      ctx.restore();
    },
  };
}

function makeConfig(p: PanelDef): any {
  return {
    type: "line",
    data: {
      datasets: p.series.map((s, i) => ({
        label: ALGORITHMS[i],
        data: s.map(([x, y]) => ({ x, y })),
        borderColor: COLORS[i],
        backgroundColor: COLORS[i],
        borderWidth: LINE_W,
        pointRadius: 0,
        pointHoverRadius: 0,
        fill: false,
        tension: 0,
        order: 6 - i,
      })),
    },
    options: {
      responsive: false,
      maintainAspectRatio: false,
      animation: false,
      devicePixelRatio: 1,
      events: [],
      layout: { padding: { left: 0, top: 14, right: 37, bottom: 0 } },
      plugins: {
        legend: { display: false },
        tooltip: { enabled: false },
        title: { display: false },
      },
      scales: {
        x: {
          type: "linear",
          min: 1,
          max: 1000,
          afterBuildTicks: (ax: any) => {
            ax.ticks = X_TICKS.map((v) => ({ value: v }));
          },
          afterFit: (ax: any) => {
            ax.height = 24;
          },
          grid: { display: false, drawTicks: false },
          border: { display: false },
          ticks: {
            autoSkip: false,
            maxRotation: 0,
            minRotation: 0,
            padding: 3,
            color: "#262626",
            font: { family: FAMILY, size: 5.6 },
            callback: (v: any) => String(v),
          },
        },
        y: {
          type: p.log ? "logarithmic" : "linear",
          min: p.y[0],
          max: p.y[1],
          afterBuildTicks: (ax: any) => {
            ax.ticks = p.ticks.map((v) => ({ value: v }));
          },
          afterFit: (ax: any) => {
            ax.width = 42;
          },
          grid: { display: false, drawTicks: false },
          border: { display: false },
          ticks: {
            autoSkip: false,
            padding: 2.5,
            color: "#262626",
            font: { family: FAMILY, size: 5.8 },
            callback: (v: any) => fmtTick(Number(v), p.pow),
          },
        },
      },
    },
    plugins: [decorPlugin(p)],
  };
}

function Panel({ p }: { p: PanelDef }) {
  const ref = useRef<HTMLCanvasElement | null>(null);
  useEffect(() => {
    if (!ref.current) return;
    const chart = new Chart(ref.current, makeConfig(p));
    return () => chart.destroy();
  }, [p]);
  return (
    <canvas
      ref={ref}
      width={CW}
      height={CH}
      style={{
        position: "absolute",
        left: COL_X[p.col] + 2,
        top: ROW_Y[p.row] + 2,
        width: CW,
        height: CH,
      }}
    />
  );
}

export default function App() {
  useEffect(() => {
    document.documentElement.style.overflow = "hidden";
    document.body.style.overflow = "hidden";
  }, []);
  const lineColor = "#141414";
  return (
    <div
      style={{
        position: "absolute",
        left: 8,
        top: 6,
        width: 1100,
        height: 1699,
        overflow: "hidden",
        background: "#ffffff",
      }}
    >
      {COL_X.map((x, i) => (
        <div
          key={"v" + i}
          style={{ position: "absolute", left: x, top: 0, width: 2, height: 1699, background: lineColor }}
        />
      ))}
      {ROW_Y.map((y, i) => (
        <div
          key={"h" + i}
          style={{ position: "absolute", left: 0, top: y, width: 1100, height: 2, background: lineColor }}
        />
      ))}
      {PANELS.map((p) => (
        <Panel key={p.name} p={p} />
      ))}
    </div>
  );
}
